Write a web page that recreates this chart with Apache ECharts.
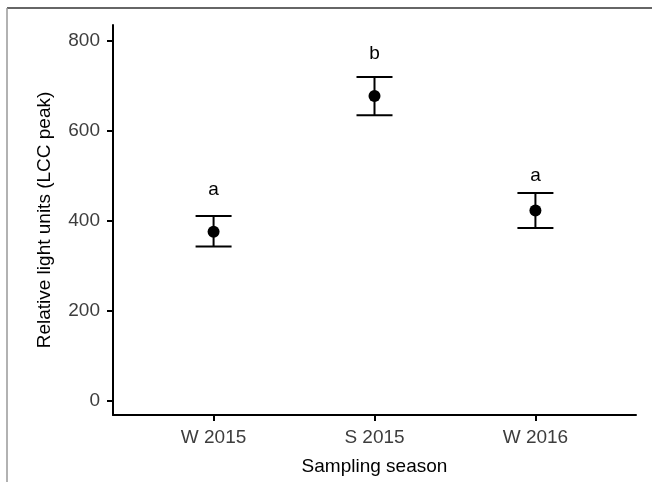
<!DOCTYPE html>
<html>
<head>
<meta charset="utf-8">
<script src="https://cdn.jsdelivr.net/npm/echarts@6/dist/echarts.min.js"></script>
<style>
  html, body { margin: 0; padding: 0; background: #fff; }
  #chart { width: 652px; height: 482px; }
</style>
</head>
<body>
<div id="chart"></div>
<script>
// seasons on the x axis (positions 1..3)
var seasons = ['W 2015', 'S 2015', 'W 2016'];
var means = [376, 678, 423];
var lower = [343, 635, 384];
var upper = [411, 720, 462];
// significance letters and where they sit (y value of letter centre)
var letters = ['a', 'b', 'a'];
var letterY = [469, 772, 500];
var yTicks = [0, 200, 400, 600, 800];

var chart = echarts.init(document.getElementById('chart'));

var tickColor = '#3d3d3d';
var font = 'Liberation Sans, Arial, Helvetica, sans-serif';

chart.setOption({
  animation: false,
  backgroundColor: '#fff',
  grid: { left: 113, right: 16, top: 25, bottom: 67 },
  graphic: [
    // frame fragment of the original figure
    { type: 'line', shape: { x1: 7, y1: 8, x2: 652, y2: 8 }, style: { stroke: '#666', lineWidth: 2 } },
    { type: 'line', shape: { x1: 7, y1: 8, x2: 7, y2: 482 }, style: { stroke: '#999', lineWidth: 1.5 } }
  ],
  xAxis: {
    type: 'value',
    min: 0.375,
    max: 3.625,
    name: 'Sampling season',
    nameLocation: 'middle',
    nameGap: 42,
    nameTextStyle: { color: '#000', fontSize: 19, fontFamily: font },
    axisLine: { onZero: false, lineStyle: { color: '#000', width: 2 } },
    axisTick: { show: true, length: 6, customValues: [1, 2, 3], lineStyle: { color: '#000', width: 2 } },
    axisLabel: {
      customValues: [1, 2, 3],
      color: tickColor, fontSize: 19, fontFamily: font, margin: 13,
      formatter: function (v) { return seasons[Math.round(v) - 1]; }
    },
    splitLine: { show: false }
  },
  yAxis: {
    type: 'value',
    min: -32,
    max: 836,
    name: 'Relative light units (LCC peak)',
    nameLocation: 'middle',
    nameGap: 59,
    nameTextStyle: { color: '#000', fontSize: 19, fontFamily: font },
    axisLine: { show: true, lineStyle: { color: '#000', width: 2 } },
    axisTick: { show: true, length: 6, customValues: yTicks, lineStyle: { color: '#000', width: 2 } },
    axisLabel: { customValues: yTicks, color: tickColor, fontSize: 19, fontFamily: font, margin: 13 },
    splitLine: { show: false }
  },
  series: [
    {
      type: 'custom',
      name: 'se',
      data: seasons.map(function (s, i) { return [i + 1, lower[i], upper[i]]; }),
      renderItem: function (params, api) {
        var lo = api.coord([api.value(0), api.value(1)]);
        var hi = api.coord([api.value(0), api.value(2)]);
        var hw = 18;
        var st = { stroke: '#000', lineWidth: 2 };
        return {
          type: 'group',
          children: [
            { type: 'line', shape: { x1: lo[0], y1: lo[1], x2: hi[0], y2: hi[1] }, style: st },
            { type: 'line', shape: { x1: lo[0] - hw, y1: lo[1], x2: lo[0] + hw, y2: lo[1] }, style: st },
            { type: 'line', shape: { x1: hi[0] - hw, y1: hi[1], x2: hi[0] + hw, y2: hi[1] }, style: st }
          ]
        };
      },
      z: 2
    },
    {
      type: 'scatter',
      data: means.map(function (m, i) { return [i + 1, m]; }),
      symbol: 'circle',
      symbolSize: 12,
      itemStyle: { color: '#000', opacity: 1 },
      z: 3
    },
    {
      type: 'custom',
      data: letters.map(function (l, i) { return [i + 1, letterY[i]]; }),
      renderItem: function (params, api) {
        var p = api.coord([api.value(0), api.value(1)]);
        return {
          type: 'text',
          x: p[0], y: p[1],
          style: {
            text: letters[params.dataIndex],
            fill: '#000', fontSize: 19, fontFamily: font,
            align: 'center', verticalAlign: 'middle'
          }
        };
      },
      z: 4
    }
  ]
});
</script>
</body>
</html>
